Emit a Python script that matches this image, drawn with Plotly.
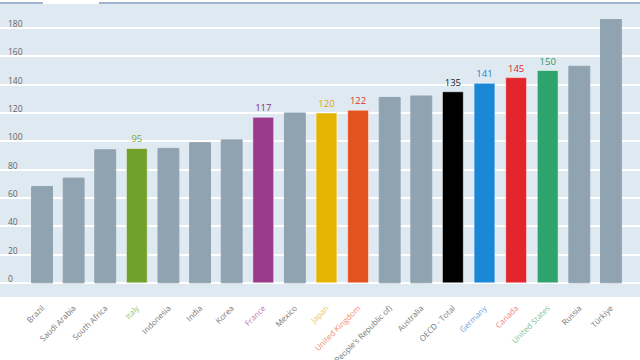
import plotly.graph_objects as go

countries = ["Brazil", "Saudi Arabia", "South Africa", "Italy", "Indonesia", "India", "Korea",
             "France", "Mexico", "Japan", "United Kingdom", "China (People's Republic of)",
             "Australia", "OECD - Total", "Germany", "Canada", "United States", "Russia", "Türkiye"]
values = [68, 74, 94, 95, 95, 99, 101, 117, 120, 120, 122, 131, 132, 135, 141, 145, 150, 153, 186]
highlighted = ["Italy", "France", "Japan", "United Kingdom", "OECD - Total", "Germany", "Canada", "United States"]
ytick_vals = [0, 20, 40, 60, 80, 100, 120, 140, 160, 180]

GREY = "#8fa3b1"
bar_colors = {"Italy": "#71a12b", "France": "#993a8b", "Japan": "#e5b400", "United Kingdom": "#e4531f",
              "OECD - Total": "#000000", "Germany": "#1b87d7", "Canada": "#e3262d", "United States": "#2ea36e"}
label_colors = {"Italy": "#7da83a", "France": "#8c2f80", "Japan": "#e0ab00", "United Kingdom": "#e0371d",
                "OECD - Total": "#222222", "Germany": "#1b7fcc", "Canada": "#e0262d", "United States": "#2e9a68"}
tick_label_colors = {"Italy": "#9cc06a", "France": "#c07ab3", "Japan": "#eec55a", "United Kingdom": "#ef8a6e",
                     "Germany": "#6f9fe0", "Canada": "#ef7f85", "United States": "#7fbf9c"}

colors = [bar_colors.get(c, GREY) for c in countries]
line_colors = ["rgba(255,255,255,0.5)" if c in bar_colors else GREY for c in countries]
texts = [str(v) if c in highlighted else "" for c, v in zip(countries, values)]
text_cols = [label_colors.get(c, "#333") for c in countries]
ticktext = ['<span style="color:%s">%s</span>' % (tick_label_colors.get(c, "#777"), c) for c in countries]

fig = go.Figure(go.Bar(
    x=countries, y=values, marker=dict(color=colors, line=dict(color=line_colors, width=1)),
    width=0.66, text=texts, textposition="outside", cliponaxis=False,
    textfont=dict(color=text_cols, size=9.5, family="Open Sans"),
))

fig.update_layout(
    width=640, height=360, margin=dict(l=0, r=0, t=4, b=63),
    paper_bgcolor="white", plot_bgcolor="#dfe9f1",
    showlegend=False,
    font=dict(family="Open Sans", color="#666"),
    xaxis=dict(type="category", range=[-1.33, 18.92], tickangle=-45, tickvals=countries, ticktext=ticktext,
               tickfont=dict(size=8, color="#777"), showgrid=False, ticks="", automargin=False,
               ticklabelstandoff=4),
    yaxis=dict(range=[-10, 197], tickvals=ytick_vals, ticklabelposition="inside", automargin=False,
               ticklabelstandoff=5, ticklabelshift=-4,
               tickfont=dict(size=8.5, color="#666"), gridcolor="white", gridwidth=1.5,
               zeroline=True, zerolinecolor="white", zerolinewidth=1.5),
    shapes=[
        dict(type="line", xref="paper", yref="paper", x0=0, x1=43/640, y0=1.003, y1=1.003,
             line=dict(color="#7f9dbd", width=1.5)),
        dict(type="line", xref="paper", yref="paper", x0=99/640, x1=1, y0=1.003, y1=1.003,
             line=dict(color="#7f9dbd", width=1.5)),
    ],
)

fig.write_html("out.html", post_script="document.body.style.margin='0';",
               config={"displayModeBar": False})
